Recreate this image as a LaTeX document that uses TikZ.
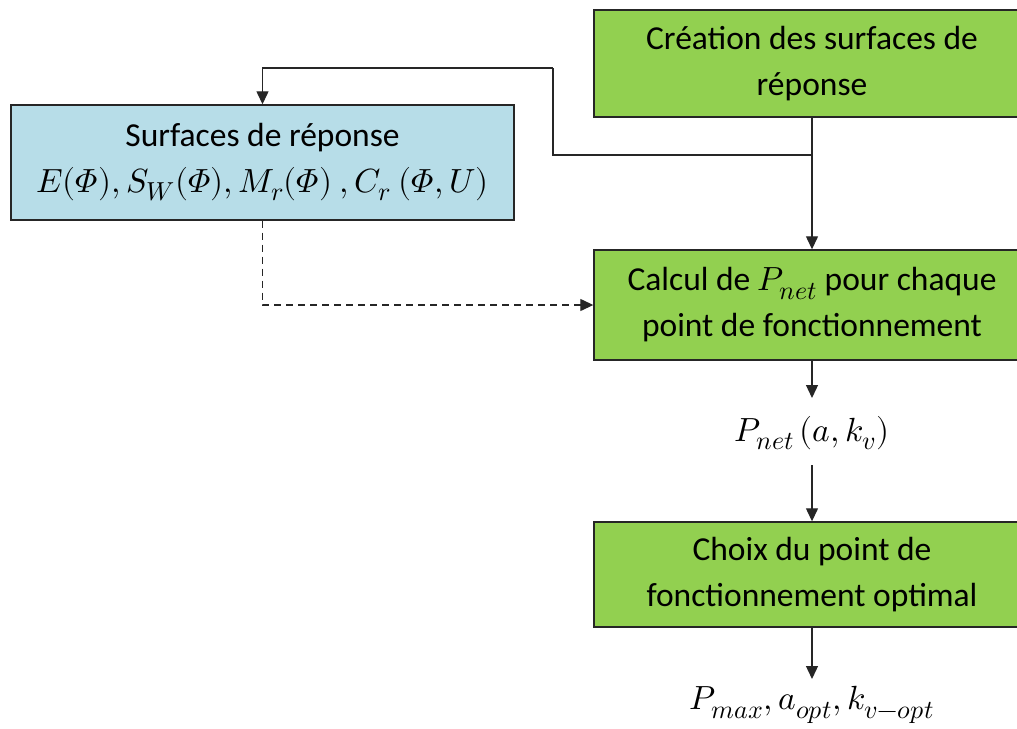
\documentclass[tikz,border=0pt]{standalone}
\usepackage{fontspec}
\usepackage[math-style=ISO]{unicode-math}
\setmainfont{Carlito}
\setmathfont{Latin Modern Math}
\DeclareMathSizes{33.5}{33.5}{26}{20}
\usetikzlibrary{arrows.meta}
\definecolor{boxgreen}{HTML}{92D050}
\definecolor{boxblue}{HTML}{B7DDE8}
\begin{document}
\begin{tikzpicture}[x=1pt,y=-1pt,
  box/.style={draw=black!85,line width=1.4pt,align=center,inner sep=0pt,
    font=\fontsize{33.5}{46}\selectfont},
  gbox/.style={box,fill=boxgreen,minimum width=436pt},
  bbox/.style={box,fill=boxblue},
  lbl/.style={inner sep=0pt,font=\fontsize{33.5}{46}\selectfont},
  conn/.style={draw=black!85,line width=1.3pt},
  arr/.style={conn,-{Triangle[length=13pt,width=12pt]}},
  darr/.style={arr,dash pattern=on 7pt off 5pt}]
\useasboundingbox (0,0) rectangle (1017,728);
\clip (0,0) rectangle (1017,728);
\node[gbox,minimum height=107pt] (b1) at (812,63.5) {Création des surfaces de\\réponse};
\node[bbox,minimum width=503pt,minimum height=115pt] (sr) at (262.5,162.5)
  {Surfaces de réponse\\$E(\Phi),S_W(\Phi),M_r(\Phi)\ ,C_r\ (\Phi,U)$};
\node[gbox,minimum height=110pt] (b2) at (812,305) {Calcul de $P_{net}$ pour chaque\\point de fonctionnement};
\node[lbl] (l1) at (812,433) {$P_{net}\,(a,k_v)$};
\node[gbox,minimum height=105pt] (b3) at (812,574.5) {Choix du point de\\fonctionnement optimal};
\node[lbl] (l2) at (812,705) {$P_{max},a_{opt},k_{v-opt}$};
\coordinate (j) at (812,155);
\coordinate (k) at (553,155);
\coordinate (t) at (553,68);
\coordinate (e1) at (812,398);
\coordinate (s2) at (812,465);
\coordinate (e3) at (812,679);
\draw[conn] (b1.south) -- (j) -- (k) -- (t);
\draw[arr] (t) -| (sr.north);
\draw[arr] (j) -- (b2.north);
\draw[darr] (sr.south) |- (b2.west);
\draw[arr] (b2.south) -- (e1);
\draw[arr] (s2) -- (b3.north);
\draw[arr] (b3.south) -- (e3);
\end{tikzpicture}
\end{document}
